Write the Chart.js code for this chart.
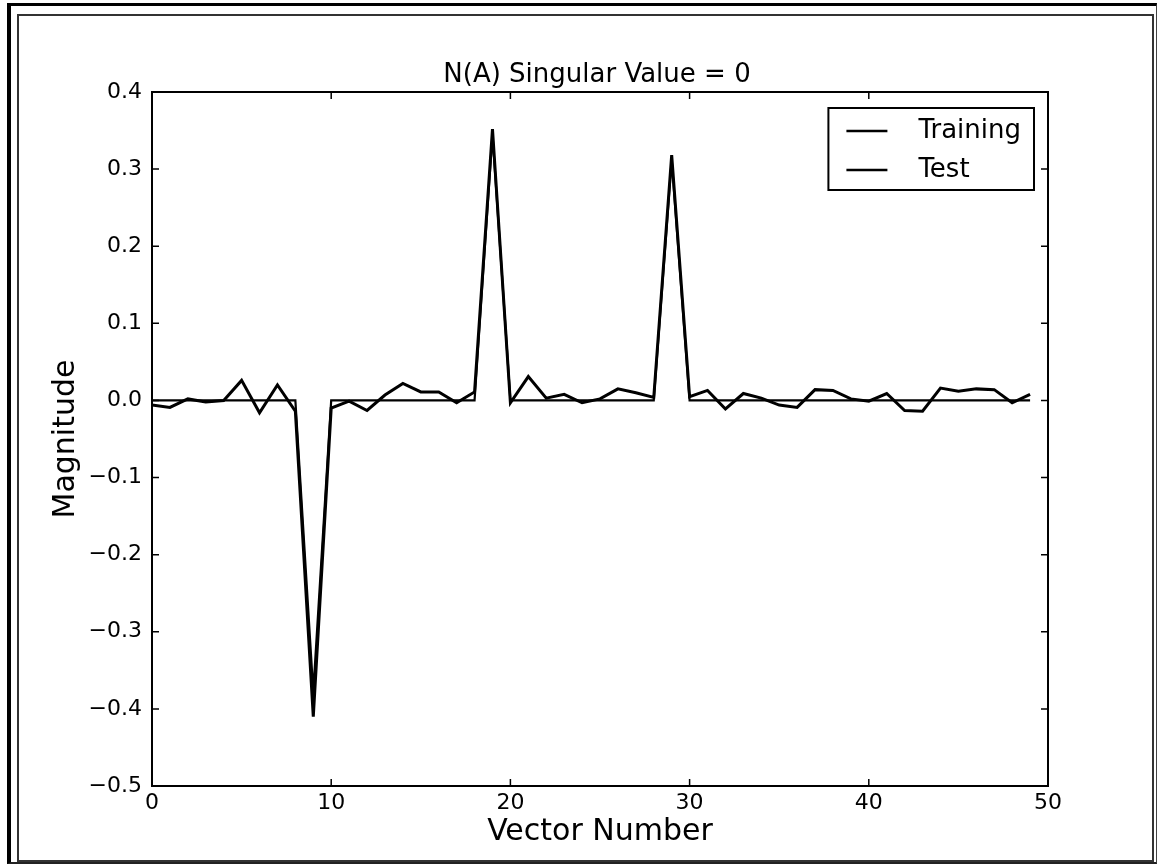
<!DOCTYPE html>
<html>
<head>
<meta charset="utf-8">
<style>
  body { margin: 0; background: #fff; }
  #wrap { position: relative; width: 1161px; height: 867px; overflow: hidden; }
  #outer { position: absolute; left: 7px; top: 3px; width: 1150px; height: 861px; box-sizing: border-box;
           border-left: 4px solid #000; border-top: 3px solid #000; border-right: 1px solid #444; border-bottom: 2px solid #222; }
  #inner { position: absolute; left: 17px; top: 14px; width: 1137px; height: 848px; box-sizing: border-box; border: 2px solid #333; }
  canvas { position: absolute; left: 0; top: 0; }
</style>
</head>
<body>
<div id="wrap">
  <div id="outer"></div>
  <div id="inner"></div>
  <canvas id="chart" width="1161" height="867"></canvas>
</div>

<script src="https://cdn.jsdelivr.net/npm/chart.js"></script>
<script>
const chartTitle = 'N(A) Singular Value = 0';

const vectorNumbers = [0, 1, 2, 3, 4, 5, 6, 7, 8, 9,
  10, 11, 12, 13, 14, 15, 16, 17, 18, 19,
  20, 21, 22, 23, 24, 25, 26, 27, 28, 29,
  30, 31, 32, 33, 34, 35, 36, 37, 38, 39,
  40, 41, 42, 43, 44, 45, 46, 47, 48, 49];

const trainingValues = [-0.006, -0.009, 0.002, -0.002, 0.000, 0.026, -0.016, 0.020, -0.014, -0.410,
  -0.010, -0.001, -0.013, 0.007, 0.022, 0.011, 0.011, -0.003, 0.011, 0.352,
  -0.003, 0.031, 0.003, 0.008, -0.003, 0.002, 0.015, 0.010, 0.004, 0.318,
  0.005, 0.013, -0.011, 0.009, 0.003, -0.006, -0.009, 0.014, 0.013, 0.002,
  -0.001, 0.009, -0.013, -0.014, 0.016, 0.012, 0.015, 0.014, -0.003, 0.008];

const testValues = [0, 0, 0, 0, 0, 0, 0, 0, 0, -0.378,
  0, 0, 0, 0, 0, 0, 0, 0, 0, 0.345,
  0, 0, 0, 0, 0, 0, 0, 0, 0, 0.312,
  0, 0, 0, 0, 0, 0, 0, 0, 0, 0,
  0, 0, 0, 0, 0, 0, 0, 0, 0, 0];

const xTickStep = 10;
const yTickStep = 0.1;

const FONT = 'DejaVu Sans';

function toPoints(values) {
  return vectorNumbers.map((x, i) => ({ x: x, y: values[i] }));
}

// frame, inward ticks, title and boxed legend like the old matplotlib look
const framePlugin = {
  id: 'frame',
  afterDatasetsDraw(chart) {
    const ctx = chart.ctx;
    const a = chart.chartArea;
    const xs = chart.scales.x, ys = chart.scales.y;
    const tl = 7;
    ctx.save();
    ctx.strokeStyle = '#000';
    ctx.lineWidth = 2;
    ctx.strokeRect(a.left, a.top, a.right - a.left, a.bottom - a.top);

    ctx.lineWidth = 1.5;
    ctx.beginPath();
    xs.ticks.forEach(t => {
      const px = xs.getPixelForValue(t.value);
      ctx.moveTo(px, a.bottom); ctx.lineTo(px, a.bottom - tl);
      ctx.moveTo(px, a.top); ctx.lineTo(px, a.top + tl);
    });
    ys.ticks.forEach(t => {
      const py = ys.getPixelForValue(t.value);
      ctx.moveTo(a.left, py); ctx.lineTo(a.left + tl, py);
      ctx.moveTo(a.right, py); ctx.lineTo(a.right - tl, py);
    });
    ctx.stroke();

    // title
    ctx.fillStyle = '#000';
    ctx.font = '26px "' + FONT + '"';
    ctx.textAlign = 'center';
    ctx.textBaseline = 'alphabetic';
    ctx.fillText(chartTitle, (a.left + a.right) / 2 - 3, a.top - 10);

    // legend
    const sets = chart.data.datasets;
    ctx.font = '26px "' + FONT + '"';
    const textW = Math.max(...sets.map(d => ctx.measureText(d.label).width));
    const padL = 18, sample = 41, gap = 31, padR = 13, rowH = 39;
    const w = padL + sample + gap + textW + padR;
    const h = 82;
    const bx = a.right - 14 - w, by = a.top + 16;
    ctx.fillStyle = '#fff';
    ctx.fillRect(bx, by, w, h);
    ctx.lineWidth = 2;
    ctx.strokeRect(bx, by, w, h);
    sets.forEach((d, i) => {
      const ry = by + 23 + i * rowH;
      ctx.strokeStyle = d.borderColor;
      ctx.lineWidth = 2.5;
      ctx.beginPath();
      ctx.moveTo(bx + padL, ry); ctx.lineTo(bx + padL + sample, ry);
      ctx.stroke();
      ctx.fillStyle = '#000';
      ctx.textAlign = 'left';
      ctx.fillText(d.label, bx + padL + sample + gap, ry + 7);
    });
    ctx.restore();
  }
};

function fmtY(v) {
  if (Math.abs(v) < 1e-9) return '0.0';
  return v.toFixed(1).replace('-', '\u2212');
}

new Chart(document.getElementById('chart'), {
  type: 'line',
  data: {
    datasets: [
      { label: 'Training', data: toPoints(trainingValues), borderColor: '#000', borderWidth: 3,
        pointRadius: 0, tension: 0, fill: false },
      { label: 'Test', data: toPoints(testValues), borderColor: '#000', borderWidth: 2.2,
        pointRadius: 0, tension: 0, fill: false }
    ]
  },
  options: {
    responsive: false,
    animation: false,
    layout: { padding: { top: 92, right: 113, left: 0, bottom: 0 } },
    plugins: {
      legend: { display: false },
      tooltip: { enabled: false }
    },
    scales: {
      x: {
        type: 'linear', min: 0, max: 50,
        border: { display: false },
        grid: { display: false, drawTicks: false },
        ticks: { stepSize: xTickStep, padding: 4, maxRotation: 0, color: '#000',
                 font: { family: FONT, size: 22 } },
        title: { display: true, text: 'Vector Number', color: '#000',
                 font: { family: FONT, size: 30 }, padding: { top: 0, bottom: 17 } },
        afterFit: s => { s.height = 81; }
      },
      y: {
        min: -0.5, max: 0.4,
        border: { display: false },
        grid: { display: false, drawTicks: false },
        ticks: { stepSize: yTickStep, padding: 10, color: '#000',
                 font: { family: FONT, size: 22 }, callback: v => fmtY(v) },
        title: { display: true, text: 'Magnitude', color: '#000',
                 font: { family: FONT, size: 30 }, padding: { top: 48, bottom: 0 } },
        afterFit: s => { s.width = 152; }
      }
    }
  },
  plugins: [framePlugin]
});
</script>
</body>
</html>
